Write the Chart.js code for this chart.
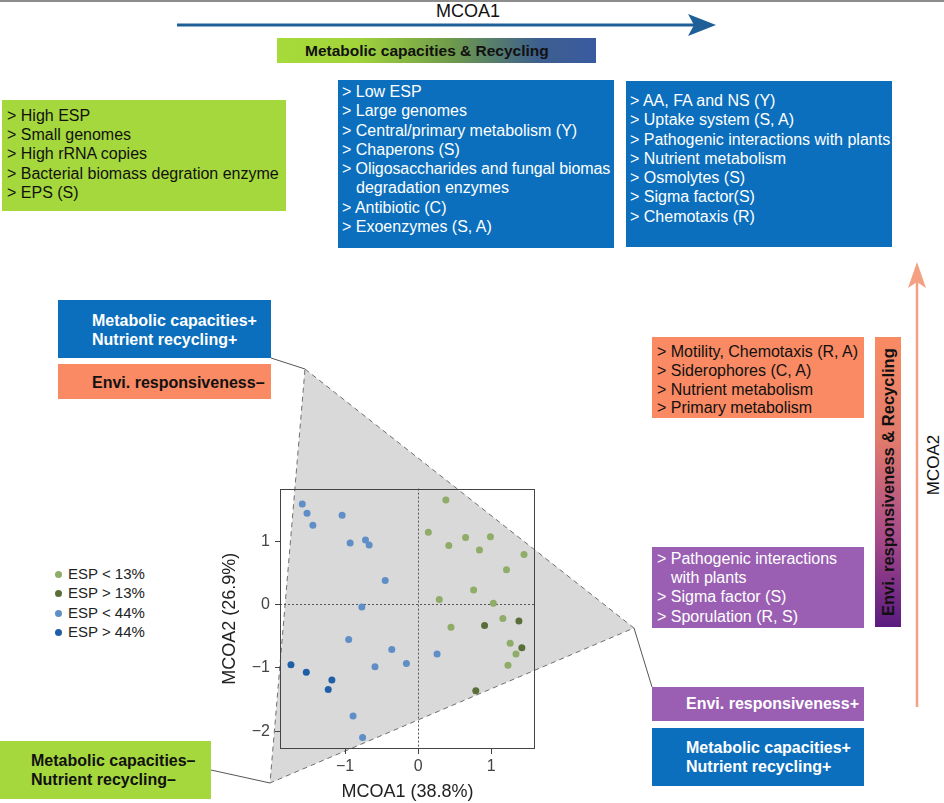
<!DOCTYPE html>
<html>
<head>
<meta charset="utf-8">
<script src="https://cdn.jsdelivr.net/npm/chart.js@4.4.0/dist/chart.umd.min.js"></script>
<style>
  body { margin: 0; background: #fff; }
  #page { position: relative; width: 944px; height: 803px; overflow: hidden; font-family: "Liberation Sans", Arial, sans-serif; }
  #deco { position: absolute; left: 0; top: 0; z-index: 0; }
  #chart-wrap { position: absolute; left: 200px; top: 474px; width: 345px; height: 329px; z-index: 1; }
  .box { position: absolute; box-sizing: border-box; white-space: nowrap; overflow: hidden; font-size: 16px; line-height: 19.3px; z-index: 2; }
  .green { background: #a5d83c; color: #111; }
  .blue { background: #0b6fbd; color: #fff; }
  .orange { background: #f98a63; color: #111; }
  .purple { background: #9a5fb2; color: #fff; }
  .bold { font-weight: bold; }
  .indent { padding-left: 14px; }
  #legend { position: absolute; left: 55px; top: 564px; z-index: 2; font-size: 15px; color: #222; }
  #legend .row { height: 19.3px; line-height: 19.3px; white-space: nowrap; }
  #legend .dot { display: inline-block; width: 7px; height: 7px; border-radius: 50%; margin-right: 6px; vertical-align: 1px; }
</style>
</head>
<body>
<div id="page">
  <svg id="deco" width="944" height="803">
    <rect x="0" y="0" width="944" height="2" fill="#8c8c8c"/>
    <text x="468" y="11" font-size="18" text-anchor="middle" dominant-baseline="central" fill="#111" font-family="Liberation Sans, Arial, sans-serif">MCOA1</text>
    <line x1="177" y1="25" x2="698" y2="25" stroke="#1e5f98" stroke-width="3"/>
    <polygon points="688,14 716,25 688,36 694,25" fill="#1e5f98"/>
    <polygon points="305,369 634,628 270,783" fill="#d9d9d9" stroke="#707070" stroke-width="1" stroke-dasharray="5,4"/>
    <line x1="271" y1="358" x2="305" y2="369" stroke="#555" stroke-width="1"/>
    <line x1="634" y1="628" x2="652" y2="687" stroke="#555" stroke-width="1"/>
    <line x1="211" y1="770" x2="270" y2="783" stroke="#555" stroke-width="1"/>
    <line x1="917" y1="707" x2="917" y2="280" stroke="#f4a083" stroke-width="2.5"/>
    <polygon points="917,262 926,288 917,282 908,288" fill="#f4a083"/>
    <text x="0" y="0" font-size="17" text-anchor="middle" dominant-baseline="central" fill="#111" font-family="Liberation Sans, Arial, sans-serif" transform="translate(933,465) rotate(-90)">MCOA2</text>
  </svg>

  <div class="box bold" style="left:277px;top:38px;width:319px;height:25px;line-height:25px;padding-left:28px;font-size:15.5px;color:#111;background:linear-gradient(to right,#a6db3a 0%,#a2d43b 25%,#6e9a4c 55%,#3d5f8e 82%,#3a5aa0 100%);">Metabolic capacities &amp; Recycling</div>

  <div class="box green" style="left:2px;top:100px;width:284px;height:111px;padding:6px 0 0 5px;line-height:19.2px;">
    <div>&gt; High ESP</div>
    <div>&gt; Small genomes</div>
    <div>&gt; High rRNA copies</div>
    <div>&gt; Bacterial biomass degration enzyme</div>
    <div>&gt; EPS (S)</div>
  </div>

  <div class="box blue" style="left:338px;top:80px;width:276px;height:168px;padding:2px 0 0 4px;">
    <div>&gt; Low ESP</div>
    <div>&gt; Large genomes</div>
    <div>&gt; Central/primary metabolism (Y)</div>
    <div>&gt; Chaperons (S)</div>
    <div style="letter-spacing:-0.1px;">&gt; Oligosaccharides and fungal biomas</div>
    <div class="indent">degradation enzymes</div>
    <div>&gt; Antibiotic (C)</div>
    <div>&gt; Exoenzymes (S, A)</div>
  </div>

  <div class="box blue" style="left:626px;top:81px;width:266px;height:166px;padding:10px 0 0 4px;">
    <div>&gt; AA, FA and NS (Y)</div>
    <div>&gt; Uptake system (S, A)</div>
    <div>&gt; Pathogenic interactions with plants</div>
    <div>&gt; Nutrient metabolism</div>
    <div>&gt; Osmolytes (S)</div>
    <div>&gt; Sigma factor(S)</div>
    <div>&gt; Chemotaxis (R)</div>
  </div>

  <div class="box blue bold" style="left:58px;top:300px;width:213px;height:58px;padding:12px 0 0 34px;line-height:18.5px;">
    <div>Metabolic capacities+</div>
    <div>Nutrient recycling+</div>
  </div>

  <div class="box orange bold" style="left:58px;top:364px;width:213px;height:35px;padding:10px 0 0 34px;line-height:18px;">Envi. responsiveness&ndash;</div>

  <div class="box orange" style="left:652px;top:337px;width:212px;height:81px;padding:6px 0 0 5px;line-height:18.8px;">
    <div>&gt; Motility, Chemotaxis (R, A)</div>
    <div>&gt; Siderophores (C, A)</div>
    <div>&gt; Nutrient metabolism</div>
    <div>&gt; Primary metabolism</div>
  </div>

  <div class="box purple" style="left:652px;top:547px;width:212px;height:81px;padding:2px 0 0 5px;line-height:19.2px;">
    <div>&gt; Pathogenic interactions</div>
    <div class="indent">with plants</div>
    <div>&gt; Sigma factor (S)</div>
    <div>&gt; Sporulation (R, S)</div>
  </div>

  <!-- rotated 180deg, so the gradient runs the other way in CSS -->
  <div class="box bold" style="left:875px;top:337px;width:26px;height:290px;background:linear-gradient(to top,#f98b63 0%,#e27b6c 35%,#a6498b 70%,#5a1b80 100%);color:#111;font-size:16.5px;writing-mode:vertical-rl;transform:rotate(180deg);text-align:center;line-height:26px;">Envi. responsiveness &amp; Recycling</div>

  <div class="box purple bold" style="left:652px;top:687px;width:212px;height:34px;padding:8px 0 0 34px;line-height:18px;">Envi. responsiveness+</div>

  <div class="box blue bold" style="left:652px;top:728px;width:212px;height:58px;padding:10px 0 0 34px;line-height:19px;">
    <div>Metabolic capacities+</div>
    <div>Nutrient recycling+</div>
  </div>

  <div class="box green bold" style="left:0px;top:741px;width:211px;height:58px;padding:10px 0 0 31px;line-height:19px;">
    <div>Metabolic capacities&ndash;</div>
    <div>Nutrient recycling&ndash;</div>
  </div>

  <div id="legend"></div>
  <div id="chart-wrap"><canvas id="mcoa" width="345" height="329"></canvas></div>
</div>

<script>
// Series labels and colours
const seriesLabels = ['ESP < 13%', 'ESP > 13%', 'ESP < 44%', 'ESP > 44%'];
const seriesColors = ['#8fac68', '#5a6e3a', '#5f8fc6', '#1f5fa8'];

// ESP < 13% (light green)
const lowEsp13X = [0.38, 0.14, 0.65, 0.99, 0.42, 0.84, 1.45, 1.21, 0.76, 0.29, 1.03, 1.16, 0.45, 1.26, 1.34, 1.23];
const lowEsp13Y = [1.65, 1.14, 1.06, 1.07, 0.93, 0.86, 0.79, 0.55, 0.23, 0.08, 0.02, -0.22, -0.36, -0.61, -0.78, -0.96];

// ESP > 13% (dark green)
const highEsp13X = [0.91, 1.38, 1.42, 0.79];
const highEsp13Y = [-0.33, -0.26, -0.68, -1.36];

// ESP < 44% (light blue)
const lowEsp44X = [-1.585, -1.52, -1.44, -1.04, -0.93, -0.72, -0.67, -0.45, -0.77, -0.95, -0.36, -0.59, -0.16, 0.26, -0.89, -0.76];
const lowEsp44Y = [1.586, 1.44, 1.25, 1.41, 0.97, 1.02, 0.94, 0.38, -0.04, -0.55, -0.71, -0.98, -0.93, -0.78, -1.76, -2.10];

// ESP > 44% (dark blue)
const highEsp44X = [-1.74, -1.53, -1.18, -1.23];
const highEsp44Y = [-0.95, -1.07, -1.19, -1.34];

// Axis ticks
const xTicks = [-1, 0, 1];
const yTicks = [-2, -1, 0, 1];

const seriesX = [lowEsp13X, highEsp13X, lowEsp44X, highEsp44X];
const seriesY = [lowEsp13Y, highEsp13Y, lowEsp44Y, highEsp44Y];

const fontFamily = '"Liberation Sans", Arial, sans-serif';

function formatTick(v) {
    return v < 0 ? '\u2212' + Math.abs(v) : String(v);
}

// Frame round the plot area (all four sides)
const frame = {
    id: 'frame',
    beforeDatasetsDraw(chart) {
        const {ctx, chartArea: a} = chart;
        ctx.save();
        ctx.strokeStyle = '#444';
        ctx.lineWidth = 1;
        ctx.strokeRect(Math.round(a.left) + 0.5, Math.round(a.top) + 0.5, Math.round(a.right - a.left) - 1, Math.round(a.bottom - a.top) - 1);
        ctx.restore();
    }
};

function zeroLine(c) {
    return c.tick && c.tick.value === 0 ? '#555' : 'rgba(0,0,0,0)';
}

const datasets = seriesLabels.map((label, i) => ({
    label: label,
    data: seriesX[i].map((x, j) => ({x: x, y: seriesY[i][j]})),
    backgroundColor: seriesColors[i],
    borderWidth: 0,
    pointRadius: 3.5
}));

const ctx = document.getElementById('mcoa').getContext('2d');
const chart = new Chart(ctx, {
    type: 'scatter',
    data: { datasets: datasets },
    options: {
        responsive: false,
        animation: false,
        layout: { padding: { top: 10, right: 10, left: 0, bottom: 0 } },
        plugins: {
            legend: { display: false },
            tooltip: { enabled: false }
        },
        scales: {
            x: {
                type: 'linear',
                min: -1.89,
                max: 1.60,
                afterBuildTicks: s => { s.ticks = xTicks.map(v => ({value: v})); },
                afterFit: s => { s.height = 54; },
                grid: { color: zeroLine, tickColor: '#444', tickLength: 5 },
                border: { display: false, dash: [2, 2] },
                ticks: { padding: 3, color: '#444', font: { family: fontFamily, size: 16 }, callback: formatTick },
                title: { display: true, text: 'MCOA1 (38.8%)', color: '#222', font: { family: fontFamily, size: 18 }, padding: { top: 0, bottom: 0 } }
            },
            y: {
                type: 'linear',
                min: -2.28,
                max: 1.83,
                afterBuildTicks: s => { s.ticks = yTicks.map(v => ({value: v})); },
                afterFit: s => { s.width = 80; },
                grid: { color: zeroLine, tickColor: '#444', tickLength: 5 },
                border: { display: false, dash: [2, 2] },
                ticks: { padding: 5, color: '#444', font: { family: fontFamily, size: 16 }, callback: formatTick },
                title: { display: true, text: 'MCOA2 (26.9%)', color: '#222', font: { family: fontFamily, size: 18 }, padding: { top: 19, bottom: 0 } }
            }
        }
    },
    plugins: [frame]
});

// HTML legend from the same series
const legend = document.getElementById('legend');
legend.innerHTML = seriesLabels.map((label, i) =>
    `<div class="row"><span class="dot" style="background:${seriesColors[i]}"></span>${label.replace('<', '&lt;').replace('>', '&gt;')}</div>`
).join('');
</script>
</body>
</html>
